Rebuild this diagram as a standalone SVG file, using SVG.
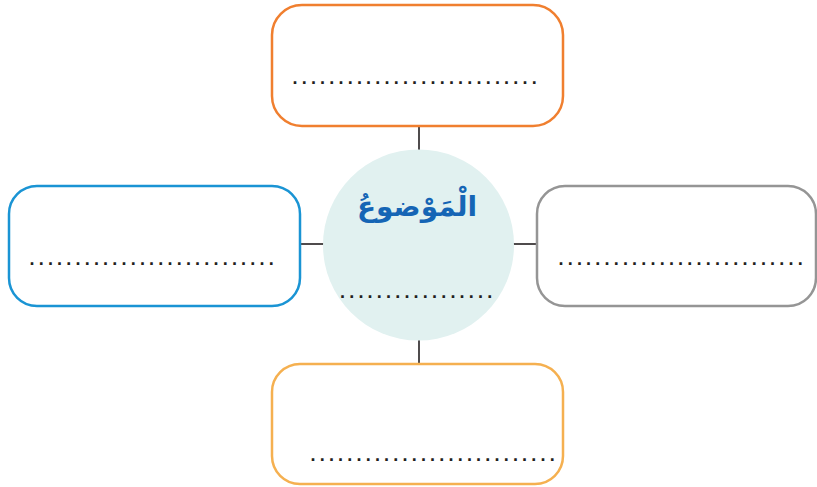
<svg xmlns="http://www.w3.org/2000/svg" width="817" height="487" viewBox="0 0 817 487">
<style>
.box{fill:#fff;stroke-width:2.5}
.dots{font-family:"Liberation Sans",Arial,sans-serif;font-size:18px;font-weight:bold;fill:#231F20;letter-spacing:4.2px}
.conn{stroke:#231F20;stroke-width:1.6;fill:none}
</style>
<rect width="817" height="487" fill="#fff"/>
<g id="connectors">
<line class="conn" x1="419" y1="126" x2="419" y2="151"/>
<line class="conn" x1="419" y1="340" x2="419" y2="364"/>
<line class="conn" x1="300" y1="244" x2="324" y2="244"/>
<line class="conn" x1="513" y1="244" x2="538" y2="244"/>
</g>
<g id="center">
<circle cx="418.5" cy="245" r="95.5" fill="#E1F1F0"/>
<text x="417" y="216" text-anchor="middle" font-family="'DejaVu Sans',sans-serif" font-weight="bold" font-size="28" fill="#1565B5" direction="rtl">الْمَوْضوعُ</text>
<text class="dots" x="340" y="298">.................</text>
</g>
<g id="top">
<rect class="box" x="272" y="5" width="291" height="121" rx="30" stroke="#F07F2F"/>
<text class="dots" x="292.5" y="84">...........................</text>
</g>
<g id="left">
<rect class="box" x="9" y="186" width="291" height="120" rx="28" stroke="#1A94D4"/>
<text class="dots" x="29.5" y="265">...........................</text>
</g>
<g id="right">
<rect class="box" x="537" y="186" width="279" height="120" rx="28" stroke="#959595"/>
<text class="dots" x="558.5" y="265">...........................</text>
</g>
<g id="bottom">
<rect class="box" x="272" y="364" width="291" height="120" rx="28" stroke="#F5B050"/>
<text class="dots" x="310.5" y="461">...........................</text>
</g>
</svg>
